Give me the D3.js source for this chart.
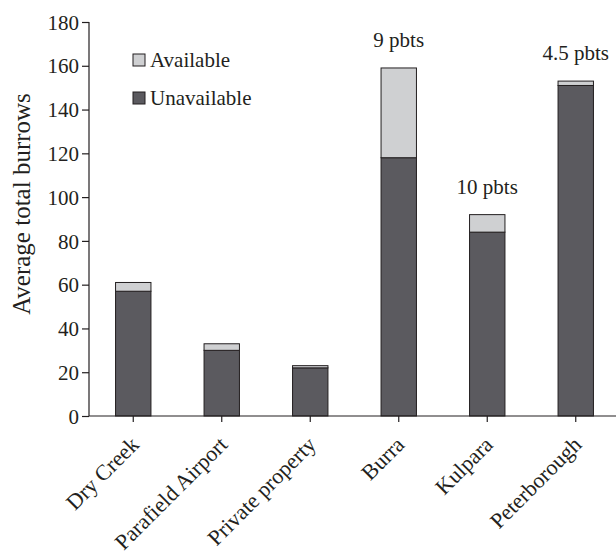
<!DOCTYPE html>
<html><head><meta charset="utf-8">
<script src="https://cdn.jsdelivr.net/npm/d3@7"></script>
<style>body{margin:0;background:#fff}svg{display:block}text{font-family:"Liberation Serif","Times New Roman",serif;fill:#231f20}</style>
</head><body><svg id="c" width="616" height="554"></svg>
<script>
const categories = ["Dry Creek","Parafield Airport","Private property","Burra","Kulpara","Peterborough"];
const unavailable = [57,30,22,118,84,151];
const available = [4,3,1,41,8,2];
const annotations = ["","","","9 pbts","10 pbts","4.5 pbts"];
const yTicks = [0,20,40,60,80,100,120,140,160,180];
const seriesNames = ["Available","Unavailable"];
const colors = {Available:"#cfd0d2", Unavailable:"#5b5a5f"};

const svg = d3.select("#c");
const x = d3.scaleBand().domain(categories).range([89,620]).paddingInner(0.6).paddingOuter(0.3);
const y = d3.scaleLinear().domain([0,180]).range([416,22]);

const data = categories.map((c,i)=>({cat:c, Unavailable:unavailable[i], Available:available[i]}));
const stack = d3.stack().keys(["Unavailable","Available"])(data);

svg.append("g").selectAll("g").data(stack).join("g")
  .attr("fill",d=>colors[d.key])
  .selectAll("rect").data(d=>d).join("rect")
  .attr("x",d=>x(d.data.cat)).attr("width",x.bandwidth())
  .attr("y",d=>y(d[1])).attr("height",d=>y(d[0])-y(d[1]))
  .attr("stroke","#231f20").attr("stroke-width",1);

const yAxis = svg.append("g").attr("transform","translate(89,0)")
  .call(d3.axisLeft(y).tickValues(yTicks).tickSize(7).tickPadding(3));
yAxis.select(".domain").attr("d","M0,22V416");
const xAxis = svg.append("g").attr("transform","translate(0,416)")
  .call(d3.axisBottom(x).tickSize(6).tickSizeOuter(0));
xAxis.select(".domain").attr("d","M89,0H616");
svg.selectAll(".domain, .tick line").attr("stroke","#231f20").attr("stroke-width",1.2);
yAxis.selectAll("text").attr("font-size",21).attr("fill","#231f20").attr("font-family","Liberation Serif").attr("dy","0.34em");
xAxis.selectAll("text").attr("font-size",22).attr("fill","#231f20").attr("font-family","Liberation Serif")
  .attr("text-anchor","end").attr("dy",0).attr("y",0)
  .attr("transform","translate(7,30) rotate(-45)");

svg.append("text").attr("transform","translate(30,204) rotate(-90)")
  .attr("text-anchor","middle").attr("font-size",25).text("Average total burrows");

svg.append("g").selectAll("text").data(data.map((d,i)=>({cat:d.cat,total:d.Unavailable+d.Available,label:annotations[i]})).filter(d=>d.label))
  .join("text").attr("x",d=>x(d.cat)+x.bandwidth()/2).attr("y",d=>y(d.total)-21)
  .attr("text-anchor","middle").attr("font-size",21).text(d=>d.label);

const lg = svg.append("g").selectAll("g").data(seriesNames).join("g")
  .attr("transform",(d,i)=>`translate(133,${54+i*38})`);
lg.append("rect").attr("width",12).attr("height",12).attr("fill",d=>colors[d]).attr("stroke","#231f20").attr("stroke-width",1);
lg.append("text").attr("x",17).attr("y",12.5).attr("font-size",21).text(d=>d);
</script></body></html>
